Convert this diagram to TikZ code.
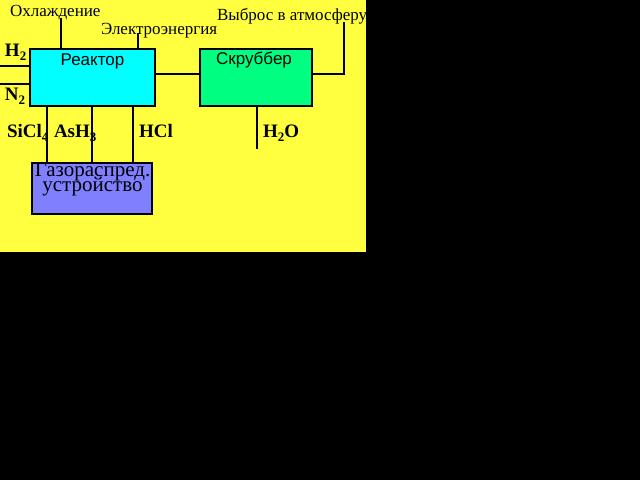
\documentclass[tikz,border=0pt]{standalone}
\usepackage{fontspec}
\setmainfont{Liberation Serif}
\setsansfont{Liberation Sans}
\newcommand\mysub[1]{\raisebox{-4pt}{\fontsize{13}{13}\selectfont #1}}
\newcommand\gasfont{\fontsize{21}{15}\selectfont\lineskiplimit=-30pt\relax}
\definecolor{bgyellow}{RGB}{255,255,64}
\definecolor{reactcol}{RGB}{0,255,255}
\definecolor{scrubcol}{RGB}{0,255,128}
\definecolor{gascol}{RGB}{128,128,255}
\begin{document}
\begin{tikzpicture}[x=1pt,y=-1pt,line width=2pt,
  unit/.style={draw=black,line width=2pt,inner sep=0pt,rectangle},
  lab/.style={inner sep=0pt,anchor=base west,font=\fontsize{17}{17}\selectfont},
  bl/.style={inner sep=0pt,anchor=base west,font=\fontsize{19}{19}\selectfont\bfseries},
  sl/.style={inner sep=0pt,anchor=base,font=\fontsize{17}{17}\selectfont\sffamily},
  gl/.style={inner sep=0pt,align=center,font=\gasfont}]
\useasboundingbox (0,0) rectangle (640,480);
\fill[black] (0,0) rectangle (640,480);
\fill[bgyellow] (0,0) rectangle (366,252);
% units
\node[unit,fill=reactcol,minimum width=125pt,minimum height=57pt] (reactor) at (92.5,77.5) {};
\node[unit,fill=scrubcol,minimum width=112pt,minimum height=57pt] (scrub) at (256,77.5) {};
\node[unit,fill=gascol,minimum width=120pt,minimum height=51pt] (gas) at (92,188.5) {};
\node[sl] (rlab) at (92.5,65) {Реактор};
\node[sl] (slab) at (254,64) {Скруббер};
\node[gl,anchor=north] (glab) at (92.5,162) {Газораспред.\\ устройство};
% labels
\node[lab] (cool) at (9,16) {Охлаждение};
\node[lab] (elec) at (100,34) {Электроэнергия};
\node[lab] (vent) at (216,20) {Выброс в атмосферу};
\node[bl] (h2) at (4,56) {H\mysub{2}};
\node[bl] (n2) at (4,100) {N\mysub{2}};
\node[bl] (sicl) at (6,137) {SiCl\mysub{4}};
\node[bl] (ash) at (53,137) {AsH\mysub{3}};
\node[bl] (hcl) at (138,137) {HCl};
\node[bl] (h2o) at (262,137) {H\mysub{2}O};
% connector coordinates
\coordinate (cooltop) at (61,18);
\coordinate (electop) at (138,33);
\coordinate (link) at (0,74);
\coordinate (venttop) at (344,22);
\coordinate (h2in) at (0,66);
\coordinate (n2in) at (0,84);
\coordinate (p1) at (47,0);
\coordinate (p2) at (92,0);
\coordinate (p3) at (133,0);
\coordinate (h2oend) at (257,149);
% connectors
\draw (reactor.north -| cooltop) -- (cooltop);
\draw (reactor.north -| electop) -- (electop);
\draw (reactor.east |- link) -- (scrub.west |- link);
\draw (scrub.east |- link) -| (venttop);
\draw (h2in) -- (reactor.west |- h2in);
\draw (n2in) -- (reactor.west |- n2in);
\draw (reactor.south -| p1) -- (gas.north -| p1);
\draw (reactor.south -| p2) -- (gas.north -| p2);
\draw (reactor.south -| p3) -- (gas.north -| p3);
\draw (scrub.south -| h2oend) -- (h2oend);
\end{tikzpicture}
\end{document}
